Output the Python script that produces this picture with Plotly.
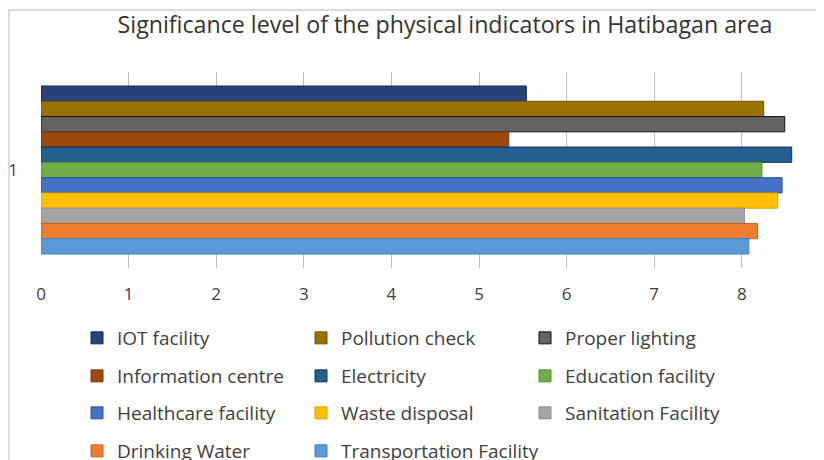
import plotly.graph_objects as go

# Series (legend order, top bar first)
indicators = ['IOT facility', 'Pollution check', 'Proper lighting',
              'Information centre', 'Electricity', 'Education facility',
              'Healthcare facility', 'Waste disposal', 'Sanitation Facility',
              'Drinking Water', 'Transportation Facility']
values = [5.54, 8.25, 8.49, 5.34, 8.57, 8.23, 8.46, 8.41, 8.03, 8.18, 8.08]
category = ['1']
x_ticks = [0, 1, 2, 3, 4, 5, 6, 7, 8]

fills = ['#264478', '#997300', '#636363', '#9E480E', '#255E91', '#70AD47',
         '#4472C4', '#FFC000', '#A5A5A5', '#ED7D31', '#5B9BD5']
edges = ['#14254a', '#6b5212', '#111111', '#7a3408', '#10325a', '#5a8c38',
         '#2f5597', '#d9a300', '#8f8f8f', '#c8621c', '#3f7fbf']

# legend rows: 3 items per row, each row its own legend
legend_rows = ['legend', 'legend', 'legend', 'legend2', 'legend2', 'legend2',
               'legend3', 'legend3', 'legend3', 'legend4', 'legend4']

FONT = 'Open Sans'
W, H = 816, 452   # page body has an 8px margin

fig = go.Figure()
for name, v, fc, ec, lg in zip(indicators, values, fills, edges, legend_rows):
    fig.add_trace(go.Bar(
        y=category, x=[v], name=name, orientation='h',
        marker=dict(color=fc, line=dict(color=ec, width=1)),
        legend=lg,
    ))

# blank third slot in the last legend row so its box isn't clipped
fig.add_trace(go.Scatter(x=[None], y=[None], mode='markers', name=' ',
                         marker=dict(color='rgba(0,0,0,0)'), legend='legend4',
                         hoverinfo='skip'))

# plot box (figure px): left 33, top 64, bottom 260
def py(p):
    return (260 - p) / 196

def px_(p):
    return (p - 33) / 783

leg_common = dict(orientation='h', entrywidth=179, xanchor='left',
                  yanchor='middle', xref='container', yref='container',
                  bgcolor='rgba(0,0,0,0)',
                  font=dict(family=FONT, size=19, color='#404040'),
                  x=69 / W)

fig.update_layout(
    width=W, height=H,
    margin=dict(l=33, r=0, t=64, b=192, autoexpand=False),
    paper_bgcolor='white', plot_bgcolor='white',
    barmode='group', bargap=0.143, bargroupgap=0,
    title=dict(text='Significance level of the physical indicators in Hatibagan area',
               x=437 / W, xanchor='center', y=1 - 17 / H, yanchor='middle',
               font=dict(family=FONT, size=23.2, color='#333333')),
    xaxis=dict(range=[0, 783 / 87.6], tickvals=x_ticks, showgrid=True,
               gridcolor='#BFBFBF', gridwidth=1, zeroline=False, showline=False,
               ticklabelstandoff=14, automargin=False,
               tickfont=dict(family=FONT, size=17, color='#404040')),
    yaxis=dict(type='category', autorange='reversed', showgrid=False,
               showline=False, ticklabelstandoff=22, automargin=False,
               tickfont=dict(family=FONT, size=17, color='#404040')),
    legend=dict(**leg_common, y=1 - 330 / H),
    legend2=dict(**leg_common, y=1 - 368 / H),
    legend3=dict(**leg_common, y=1 - 405 / H),
    legend4=dict(**leg_common, y=1 - 443 / H),
    showlegend=True,
    shapes=[dict(type='rect', xref='paper', yref='paper',
                 x0=px_(1), x1=px_(840), y0=py(2), y1=py(480),
                 line=dict(color='#D0D0D0', width=1.5), layer='below')],
)

fig.write_html('out.html')
